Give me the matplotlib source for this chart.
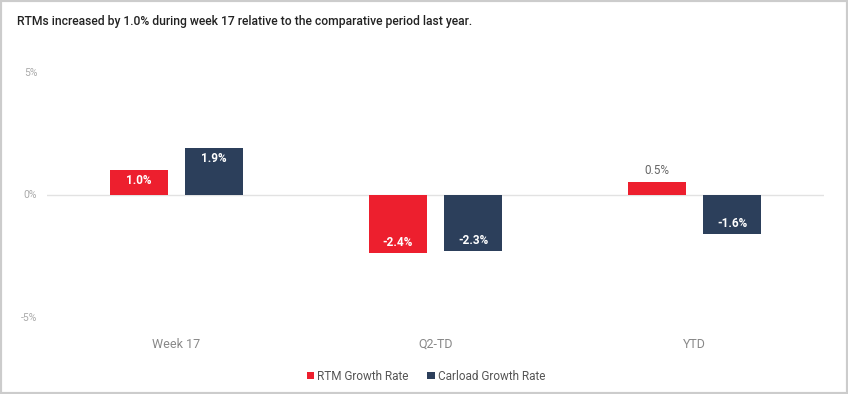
import matplotlib.pyplot as plt
import numpy as np
from matplotlib.patches import Rectangle

categories = ['Week 17', 'Q2-TD', 'YTD']
rtm_growth = [1.0, -2.4, 0.5]
carload_growth = [1.9, -2.3, -1.6]
series_names = ['RTM Growth Rate', 'Carload Growth Rate']
title = 'RTMs increased by 1.0% during week 17 relative to the comparative period last year.'

RED = '#ED1F2E'
NAVY = '#2C3F5B'

plt.rcParams['font.family'] = ['Roboto', 'DejaVu Sans']

fig = plt.figure(figsize=(8.48, 3.94), dpi=100)
ax = fig.add_axes([47 / 848, 1 - 317 / 394, 777 / 848, 245 / 394])

x = np.arange(len(categories))
width = 0.224
offset = 0.145
bars_rtm = ax.bar(x - offset, rtm_growth, width, color=RED, label=series_names[0])
bars_car = ax.bar(x + offset, carload_growth, width, color=NAVY, label=series_names[1])

ax.set_xlim(-0.5, len(categories) - 0.5)
ax.set_ylim(-5, 5)
ax.axhline(0, color='#e2e2e2', lw=1, zorder=0)

# value labels: inside the bar near its end, or above if the bar is too short
px_per_unit = 245 / 10
for bars in (bars_rtm, bars_car):
    for b in bars:
        v = b.get_height()
        xc = b.get_x() + b.get_width() / 2
        if abs(v) * px_per_unit < 20:
            ax.text(xc, v + 12 / px_per_unit, f'{v:.1f}%', ha='center', va='center',
                    fontsize=8.5, color='#666666')
        else:
            y = v - np.sign(v) * 10.5 / px_per_unit
            ax.text(xc, y, f'{v:.1f}%', ha='center', va='center', fontsize=8.5,
                    color='white', fontweight='bold')

ax.set_yticks([-5, 0, 5])
ax.set_yticklabels(['-5%', '0%', '5%'])
ax.set_xticks(x)
ax.set_xticklabels(categories)
ax.tick_params(axis='y', length=0, pad=7, labelsize=7.5, labelcolor='#aaaaaa')
ax.tick_params(axis='x', length=0, pad=15, labelsize=9, labelcolor='#888888')
for s in ax.spines.values():
    s.set_visible(False)

fig.legend(loc='center', bbox_to_anchor=(426 / 848, 1 - 376 / 394), ncol=2, frameon=False,
           fontsize=8.5, handlelength=0.6, handleheight=0.6, handletextpad=0.3,
           columnspacing=1.6, labelcolor='#555555')

fig.text(17 / 848, 1 - 22 / 394, title, ha='left', va='center', fontsize=8.7,
         fontweight='medium', color='#222222')

fig.patches.append(Rectangle((0, 0), 1, 1, transform=fig.transFigure, fill=False,
                             edgecolor='#cccccc', lw=3))

fig.savefig('out.png', dpi=100)
